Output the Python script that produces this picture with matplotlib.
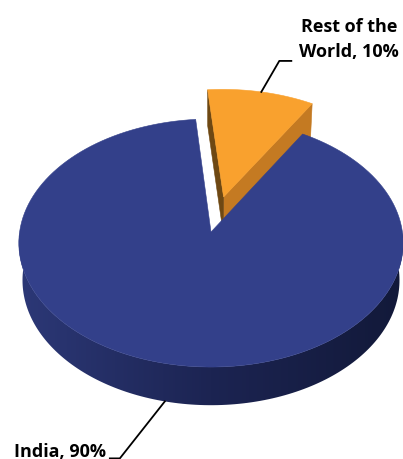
import matplotlib.pyplot as plt
import numpy as np
from matplotlib.patches import Polygon
from matplotlib.colors import LinearSegmentedColormap

# data
labels = ['India', 'Rest of the World']
shares = [90, 10]
explode = [0.0, 0.30]
top_colors = ['#33408A', '#F9A12E']
cut_colors = ['#C47A22', '#6E4813']     # radial faces of the pulled-out slice
wall_colors = ['#2C3877', '#1C2452', '#121939']

# view of the tilted pie (simple perspective camera)
W, H = 403, 460
cx, cy = 211, 233
elev = np.radians(40)
dist = 8.62
focal = 1650
depth_h = 0.26
start = 95


def proj(X, Y, Z=0.0):
    s, c = np.sin(elev), np.cos(elev)
    d = dist + Y * c - Z * s
    return cx + focal * X / d, cy - focal * (Y * s + Z * c) / d


def rim(t0, t1, du, dv, Z, n=150):
    t = np.radians(np.linspace(t0, t1, n))
    return [proj(np.cos(k) + du, np.sin(k) + dv, Z) for k in t]


fig = plt.figure(figsize=(W / 100, H / 100), dpi=100)
ax = fig.add_axes([0, 0, 1, 1])
ax.set_xlim(0, W)
ax.set_ylim(H, 0)
ax.axis('off')

angles = []
a0 = start
for s in shares:
    a1 = a0 + 360 * s / sum(shares)
    angles.append((a0, a1))
    a0 = a1

offsets = []
for (t0, t1), e in zip(angles, explode):
    mid = np.radians((t0 + t1) / 2)
    offsets.append((e * np.cos(mid), e * np.sin(mid)))

# slice at the back (pulled out) goes first
t0, t1 = angles[1]
du, dv = offsets[1]
for t, col in [(t0, cut_colors[0]), (t1, cut_colors[1])]:
    k = np.radians(t)
    pts = [proj(du, dv, 0), proj(np.cos(k) + du, np.sin(k) + dv, 0),
           proj(np.cos(k) + du, np.sin(k) + dv, -depth_h), proj(du, dv, -depth_h)]
    ax.add_patch(Polygon(pts, closed=True, fc=col, ec=col, lw=0.4))
pts = [proj(du, dv, 0)] + rim(t0, t1, du, dv, 0)
ax.add_patch(Polygon(pts, closed=True, fc=top_colors[1], ec=top_colors[1], lw=0.4))

# big slice: front wall with a left-to-right shade, then top face
t0, t1 = angles[0]
du, dv = offsets[0]
wall = rim(180, 360, du, dv, 0) + rim(360, 180, du, dv, -depth_h)
wall_patch = Polygon(wall, closed=True, fc='none', ec='none')
ax.add_patch(wall_patch)
grad = np.linspace(0, 1, 256)[None, :]
cmap = LinearSegmentedColormap.from_list('wall', wall_colors)
im = ax.imshow(grad, cmap=cmap, extent=(18, 404, 420, 200), aspect='auto',
               interpolation='bicubic', zorder=1)
im.set_clip_path(wall_patch)
pts = [proj(du, dv, 0)] + rim(t0, t1, du, dv, 0)
ax.add_patch(Polygon(pts, closed=True, fc=top_colors[0], ec=top_colors[0],
                     lw=0.4, zorder=2))

# labels with leader lines
font = dict(family='Open Sans', weight='bold', fontsize=13, color='black')

t0, t1 = angles[1]
mid = np.radians((t0 + t1) / 2)
du, dv = offsets[1]
x0, y0 = proj(np.cos(mid) + du, np.sin(mid) + dv, 0)
ax.plot([x0, x0 + 18, x0 + 30], [y0, y0 - 31, y0 - 31], color='black', lw=1.3, zorder=3)
ax.text(349, 32, 'Rest of the', ha='center', va='baseline', **font)
ax.text(349, 57, f'World, {shares[1]}%', ha='center', va='baseline', **font)

t0, t1 = angles[0]
mid = np.radians((t0 + t1) / 2)
x0, y0 = proj(np.cos(mid), np.sin(mid), -depth_h)
ax.plot([x0, x0 - 45, x0 - 55], [y0, y0 + 57, y0 + 57], color='black', lw=1.3, zorder=3)
ax.text(14, 457, f'{labels[0]}, {shares[0]}%', ha='left', va='baseline', **font)

fig.savefig('out.png', dpi=100)
